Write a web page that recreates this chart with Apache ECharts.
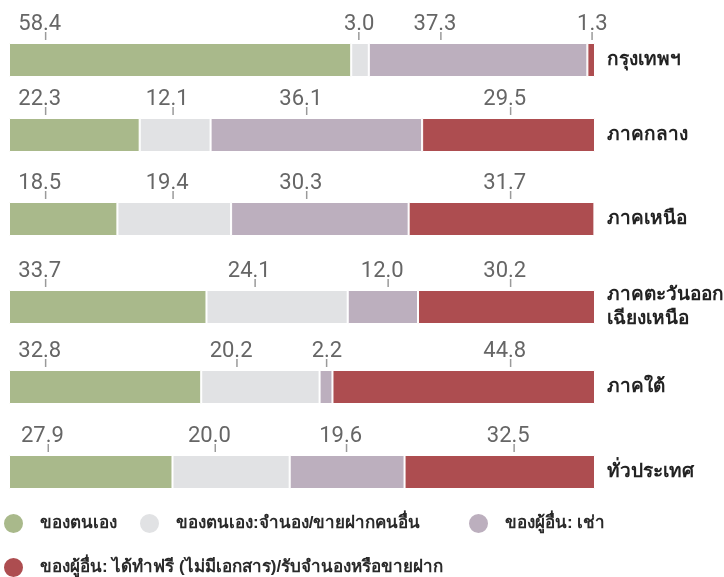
<!DOCTYPE html>
<html>
<head>
<meta charset="utf-8">
<script src="https://cdn.jsdelivr.net/npm/echarts@6/dist/echarts.min.js"></script>
<style>html,body{margin:0;padding:0;background:#fff}#c{width:724px;height:577px}</style>
</head>
<body>
<div id="c"></div>
<script>
// ---- data ----
const categories = ['กรุงเทพฯ', 'ภาคกลาง', 'ภาคเหนือ', 'ภาคตะวันออก\nเฉียงเหนือ', 'ภาคใต้', 'ทั่วประเทศ'];
const seriesNames = ['ของตนเอง', 'ของตนเอง:จำนอง/ขายฝากคนอื่น', 'ของผู้อื่น: เช่า', 'ของผู้อื่น: ได้ทำฟรี (ไม่มีเอกสาร)/รับจำนองหรือขายฝาก'];
const ownLand = [58.4, 22.3, 18.5, 33.7, 32.8, 27.9];
const ownPledged = [3.0, 12.1, 19.4, 24.1, 20.2, 20.0];
const othersRent = [37.3, 36.1, 30.3, 12.0, 2.2, 19.6];
const othersFree = [1.3, 29.5, 31.7, 30.2, 44.8, 32.5];

// ---- layout (not data) ----
const colors = ['#a9b98b', '#e1e2e4', '#bcafbe', '#ad4d50'];
const rowCenters = [60, 135, 219, 307, 387, 472];
const barH = 34;
// label anchor positions along the value axis (0-100), per row, per segment
const labelAnchors = [
  [6.25, 59.7, 73.7, 99.5],
  [6.25, 28.0, 50.8, 85.6],
  [6.25, 28.0, 50.8, 85.6],
  [6.25, 42.0, 64.7, 85.6],
  [6.25, 38.9, 54.2, 85.6],
  [6.7, 35.2, 57.6, 86.2]
];
const legendPos = [[2, 512], [138, 512], [467, 512], [2, 556]];

const valueSets = [ownLand, ownPledged, othersRent, othersFree];
const numFont = 'Roboto, "Liberation Sans", sans-serif';

const grid = [], xAxis = [], yAxis = [], series = [];
categories.forEach((cat, i) => {
  grid.push({ left: 9, width: 586, top: rowCenters[i] - barH / 2, height: barH, containLabel: false, outerBoundsMode: 'none' });
  xAxis.push({ gridIndex: i, type: 'value', min: 0, max: 100, show: false });
  yAxis.push({
    gridIndex: i, type: 'category', data: [cat], position: 'right',
    axisLine: { show: false }, axisTick: { show: false }, splitLine: { show: false },
    axisLabel: { margin: 12, color: '#222', fontWeight: 'bold', fontSize: 19, lineHeight: 24, align: 'left' }
  });
  valueSets.forEach((vals, s) => {
    series.push({
      type: 'bar', name: seriesNames[s], xAxisIndex: i, yAxisIndex: i, stack: 'row' + i,
      data: [vals[i]], barWidth: barH, silent: true,
      itemStyle: { color: colors[s], borderColor: '#fff', borderWidth: 1 }
    });
  });
  series.push({
    type: 'custom', xAxisIndex: i, yAxisIndex: i, z: 5, silent: true,
    data: valueSets.map((vals, s) => [labelAnchors[i][s], 0, vals[i]]),
    renderItem: function (params, api) {
      const p = api.coord([api.value(0), api.value(1)]);
      const top = p[1] - barH / 2;
      const txt = api.value(2).toFixed(1);
      const parts = txt.split('.');
      const sx = p[0] - 2.6;
      const ty = top - 19;
      return {
        type: 'group',
        children: [
          { type: 'line', shape: { x1: p[0], y1: top - 11, x2: p[0], y2: top - 3 }, style: { stroke: '#9a9a9a', lineWidth: 1.5 } },
          { type: 'text', x: sx, y: ty, style: { text: parts[0], align: 'right', verticalAlign: 'middle', fill: '#666', font: '22px ' + numFont } },
          { type: 'text', x: sx, y: ty, style: { text: '.' + parts[1], align: 'left', verticalAlign: 'middle', fill: '#666', font: '22px ' + numFont } }
        ]
      };
    }
  });
});

const legend = seriesNames.map((n, k) => ({
  data: [n], left: legendPos[k][0], top: legendPos[k][1], padding: 0,
  icon: 'circle', itemWidth: 33, itemHeight: 21, selectedMode: false,
  textStyle: { color: '#2a2a2a', fontWeight: 'bold', fontSize: 17, padding: [0, 0, 0, 5] }
}));

const chart = echarts.init(document.getElementById('c'));
chart.setOption({ animation: false, color: colors, grid, xAxis, yAxis, series, legend });
</script>
</body>
</html>
